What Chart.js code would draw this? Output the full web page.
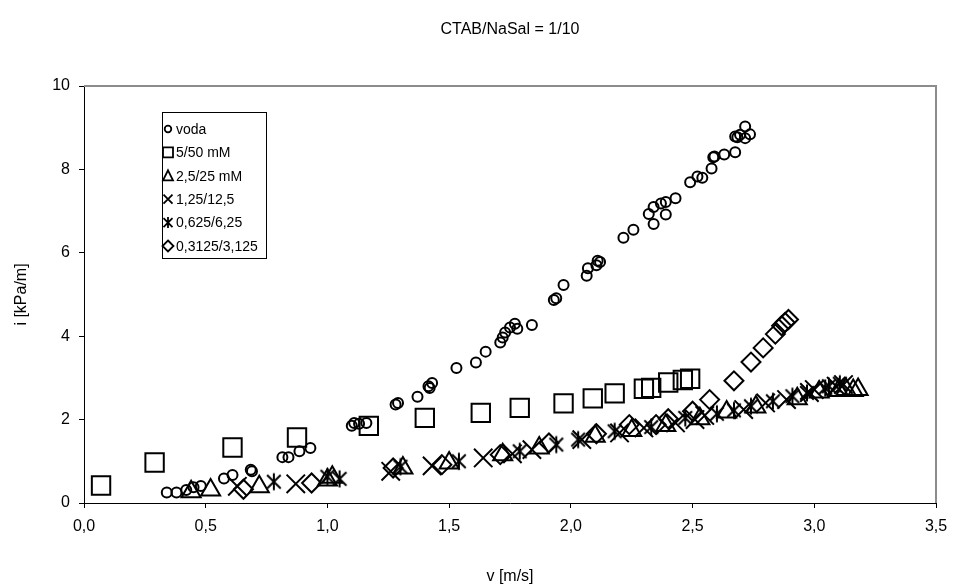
<!DOCTYPE html>
<html>
<head>
<meta charset="utf-8">
<script src="https://cdn.jsdelivr.net/npm/chart.js@4/dist/chart.umd.min.js"></script>
<style>
  html, body { margin: 0; padding: 0; background: #fff; }
  #wrap { width: 957px; height: 586px; }
</style>
</head>
<body>
<div id="wrap"><canvas id="chart" width="957" height="586"></canvas></div>
<script>
// Data: [v, i]
const voda = [
  [0.34,0.25],[0.38,0.25],[0.42,0.31],[0.45,0.38],[0.48,0.41],[0.575,0.59],[0.61,0.67],[0.685,0.80],
  [0.69,0.76],[0.815,1.10],[0.84,1.10],[0.885,1.24],[0.93,1.32],[1.10,1.85],[1.11,1.92],[1.13,1.90],
  [1.16,1.92],[1.28,2.36],[1.29,2.40],[1.37,2.55],[1.415,2.80],[1.42,2.76],[1.43,2.88],[1.53,3.24],
  [1.61,3.37],[1.65,3.63],[1.71,3.85],[1.72,3.97],[1.73,4.09],[1.75,4.21],[1.77,4.30],[1.78,4.18],
  [1.84,4.27],[1.93,4.87],[1.94,4.91],[1.97,5.23],[2.065,5.45],[2.07,5.63],[2.105,5.70],[2.11,5.81],
  [2.12,5.78],[2.216,6.36],[2.257,6.55],[2.32,6.93],[2.34,6.69],[2.34,7.10],[2.37,7.18],[2.39,6.92],
  [2.39,7.22],[2.43,7.31],[2.49,7.69],[2.52,7.83],[2.54,7.80],[2.578,8.02],[2.585,8.29],[2.59,8.31],
  [2.63,8.36],[2.675,8.41],[2.675,8.79],[2.684,8.77],[2.695,8.83],[2.716,9.03],[2.716,8.75],[2.736,8.84]
];
const mM5_50 = [
  [0.07,0.42],[0.29,0.97],[0.61,1.33],[0.875,1.57],[1.17,1.85],[1.40,2.04],[1.63,2.16],[1.79,2.28],
  [1.97,2.39],[2.09,2.51],[2.18,2.63],[2.30,2.74],[2.33,2.76],[2.40,2.89],[2.46,2.95],[2.49,2.98]
];
const mM25_25 = [
  [0.44,0.27],[0.52,0.31],[0.72,0.39],[1.0,0.55],[1.02,0.62],[1.31,0.84],[1.50,0.96],[1.72,1.16],
  [1.87,1.32],[2.10,1.60],[2.25,1.74],[2.39,1.86],[2.53,2.02],[2.64,2.18],[2.76,2.30],[2.93,2.50],
  [3.02,2.66],[3.10,2.70],[3.13,2.72],[3.16,2.70],[3.18,2.72]
];
const mM125_125 = [
  [0.63,0.40],[0.87,0.46],[1.26,0.76],[1.43,0.89],[1.64,1.08],[1.76,1.18],[1.84,1.28],[2.045,1.52],
  [2.20,1.68],[2.30,1.80],[2.43,1.92],[2.51,2.00],[2.55,2.10],[2.71,2.24],[2.80,2.40],[2.886,2.48],
  [2.98,2.65],[3.00,2.72],[3.09,2.80],[3.12,2.84]
];
const mM0625_625 = [
  [0.78,0.51],[1.00,0.63],[1.05,0.58],[1.30,0.87],[1.54,1.00],[1.79,1.24],[1.94,1.40],[2.03,1.52],
  [2.18,1.72],[2.33,1.82],[2.47,2.04],[2.60,2.14],[2.67,2.22],[2.74,2.32],[2.83,2.44],[2.91,2.56],
  [2.97,2.64],[3.045,2.76],[3.06,2.80],[3.105,2.86]
];
const mM03125_3125 = [
  [0.655,0.33],[0.935,0.48],[1.27,0.84],[1.47,0.92],[1.71,1.16],[1.91,1.44],[2.105,1.66],[2.24,1.88],
  [2.35,1.88],[2.40,2.02],[2.50,2.20],[2.57,2.48],[2.67,2.93],[2.74,3.38],[2.79,3.72],[2.84,4.05],
  [2.866,4.25],[2.88,4.33],[2.894,4.40]
];
const seriesNames = ['voda', '5/50 mM', '2,5/25 mM', '1,25/12,5', '0,625/6,25', '0,3125/3,125'];
const xTicks = [0, 0.5, 1, 1.5, 2, 2.5, 3, 3.5];
const yTicks = [0, 2, 4, 6, 8, 10];

const FONT = '"Liberation Sans", Arial, sans-serif';

// Excel-like star marker: X plus a vertical bar
function starMarker(size) {
  const c = document.createElement('canvas');
  c.width = size; c.height = size;
  const g = c.getContext('2d');
  const h = size / 2, r = h - 1.5;
  g.strokeStyle = '#000';
  g.lineWidth = 2;
  g.beginPath();
  g.moveTo(h - r * 0.8, h - r * 0.8); g.lineTo(h + r * 0.8, h + r * 0.8);
  g.moveTo(h + r * 0.8, h - r * 0.8); g.lineTo(h - r * 0.8, h + r * 0.8);
  g.moveTo(h, h - r); g.lineTo(h, h + r);
  g.stroke();
  return c;
}

const toPts = arr => arr.map(p => ({x: p[0], y: p[1]}));

function ds(label, data, style, radius) {
  return {
    label: label,
    data: toPts(data),
    pointStyle: style,
    pointRadius: radius,
    pointHoverRadius: radius,
    pointBorderColor: '#000',
    pointBackgroundColor: 'rgba(0,0,0,0)',
    pointBorderWidth: 2,
    showLine: false,
    clip: false
  };
}

// chart title centred over the plot area
const plotTitle = {
  id: 'plotTitle',
  afterDraw(chart) {
    const a = chart.chartArea, c = chart.ctx;
    c.save();
    c.font = '16px ' + FONT;
    c.fillStyle = '#000';
    c.textAlign = 'center';
    c.textBaseline = 'middle';
    c.fillText('CTAB/NaSal = 1/10', (a.left + a.right) / 2, 30);
    c.restore();
  }
};

// custom legend box, drawn like the Excel one
const legendBox = {
  id: 'legendBox',
  afterDraw(chart) {
    const c = chart.ctx;
    const x0 = 162, y0 = 112, h = 146, rowH = 23.4;
    c.save();
    c.font = '14px ' + FONT;
    let tw = 0;
    seriesNames.forEach(s => { tw = Math.max(tw, c.measureText(s).width); });
    const w = Math.ceil(tw) + 22;
    c.fillStyle = '#fff';
    c.fillRect(x0, y0, w, h);
    c.strokeStyle = '#000';
    c.lineWidth = 1;
    c.strokeRect(x0 + 0.5, y0 + 0.5, w, h);
    c.fillStyle = '#000';
    c.textBaseline = 'middle';
    c.lineWidth = 1.8;
    for (let i = 0; i < seriesNames.length; i++) {
      const cy = y0 + 17 + i * rowH, cx = x0 + 6;
      c.beginPath();
      if (i === 0) {
        c.arc(cx, cy, 3.3, 0, Math.PI * 2);
      } else if (i === 1) {
        c.rect(cx - 5, cy - 5, 10, 10);
      } else if (i === 2) {
        c.moveTo(cx, cy - 5.5); c.lineTo(cx + 5, cy + 4.5); c.lineTo(cx - 5, cy + 4.5); c.closePath();
      } else if (i === 3) {
        c.moveTo(cx - 4.5, cy - 4.5); c.lineTo(cx + 4.5, cy + 4.5);
        c.moveTo(cx + 4.5, cy - 4.5); c.lineTo(cx - 4.5, cy + 4.5);
      } else if (i === 4) {
        c.moveTo(cx - 4.5, cy - 4.5); c.lineTo(cx + 4.5, cy + 4.5);
        c.moveTo(cx + 4.5, cy - 4.5); c.lineTo(cx - 4.5, cy + 4.5);
        c.moveTo(cx, cy - 5.5); c.lineTo(cx, cy + 5.5);
      } else {
        c.moveTo(cx, cy - 5.5); c.lineTo(cx + 5.5, cy); c.lineTo(cx, cy + 5.5); c.lineTo(cx - 5.5, cy); c.closePath();
      }
      c.stroke();
      c.fillText(seriesNames[i], x0 + 14, cy + 1);
    }
    c.restore();
  }
};

// grey top and right plot border
const plotBorder = {
  id: 'plotBorder',
  beforeDatasetsDraw(chart) {
    const a = chart.chartArea, c = chart.ctx;
    c.save();
    c.strokeStyle = '#8c8c8c';
    c.lineWidth = 2;
    c.beginPath();
    c.moveTo(a.left, a.top);
    c.lineTo(a.right, a.top);
    c.lineTo(a.right, a.bottom);
    c.stroke();
    c.restore();
  }
};

new Chart(document.getElementById('chart'), {
  type: 'scatter',
  data: {
    datasets: [
      ds(seriesNames[0], voda, 'circle', 5),
      ds(seriesNames[1], mM5_50, 'rect', 13),
      ds(seriesNames[2], mM25_25, 'triangle', 11),
      ds(seriesNames[3], mM125_125, 'crossRot', 13),
      ds(seriesNames[4], mM0625_625, starMarker(20), 10),
      ds(seriesNames[5], mM03125_3125, 'rectRot', 9.5)
    ]
  },
  options: {
    responsive: false,
    animation: false,
    layout: { padding: { left: 0, right: 21, top: 86, bottom: 0 } },
    plugins: {
      legend: { display: false },
      tooltip: { enabled: false },
      title: { display: false }
    },
    scales: {
      x: {
        type: 'linear',
        min: 0,
        max: 3.5,
        afterBuildTicks: axis => { axis.ticks = xTicks.map(v => ({value: v})); },
        afterFit: axis => { axis.height = 83; },
        grid: { drawOnChartArea: false, drawTicks: true, tickLength: 5, color: '#000' },
        border: { color: '#000', width: 1 },
        ticks: {
          color: '#000',
          font: { family: FONT, size: 16 },
          padding: 9,
          callback: v => v.toFixed(1).replace('.', ',')
        },
        title: {
          display: true,
          text: 'v [m/s]',
          color: '#000',
          font: { family: FONT, size: 16 },
          padding: { top: 0, bottom: 0 }
        }
      },
      y: {
        type: 'linear',
        min: 0,
        max: 10,
        afterBuildTicks: axis => { axis.ticks = yTicks.map(v => ({value: v})); },
        afterFit: axis => { axis.width = 84; },
        grid: { drawOnChartArea: false, drawTicks: true, tickLength: 5, color: '#000' },
        border: { color: '#000', width: 1 },
        ticks: {
          color: '#000',
          font: { family: FONT, size: 16 },
          padding: 9,
          callback: v => String(v)
        },
        title: {
          display: true,
          text: 'i [kPa/m]',
          color: '#000',
          font: { family: FONT, size: 16 },
          padding: { top: 12, bottom: 0 }
        }
      }
    }
  },
  plugins: [plotBorder, legendBox, plotTitle]
});
</script>
</body>
</html>
